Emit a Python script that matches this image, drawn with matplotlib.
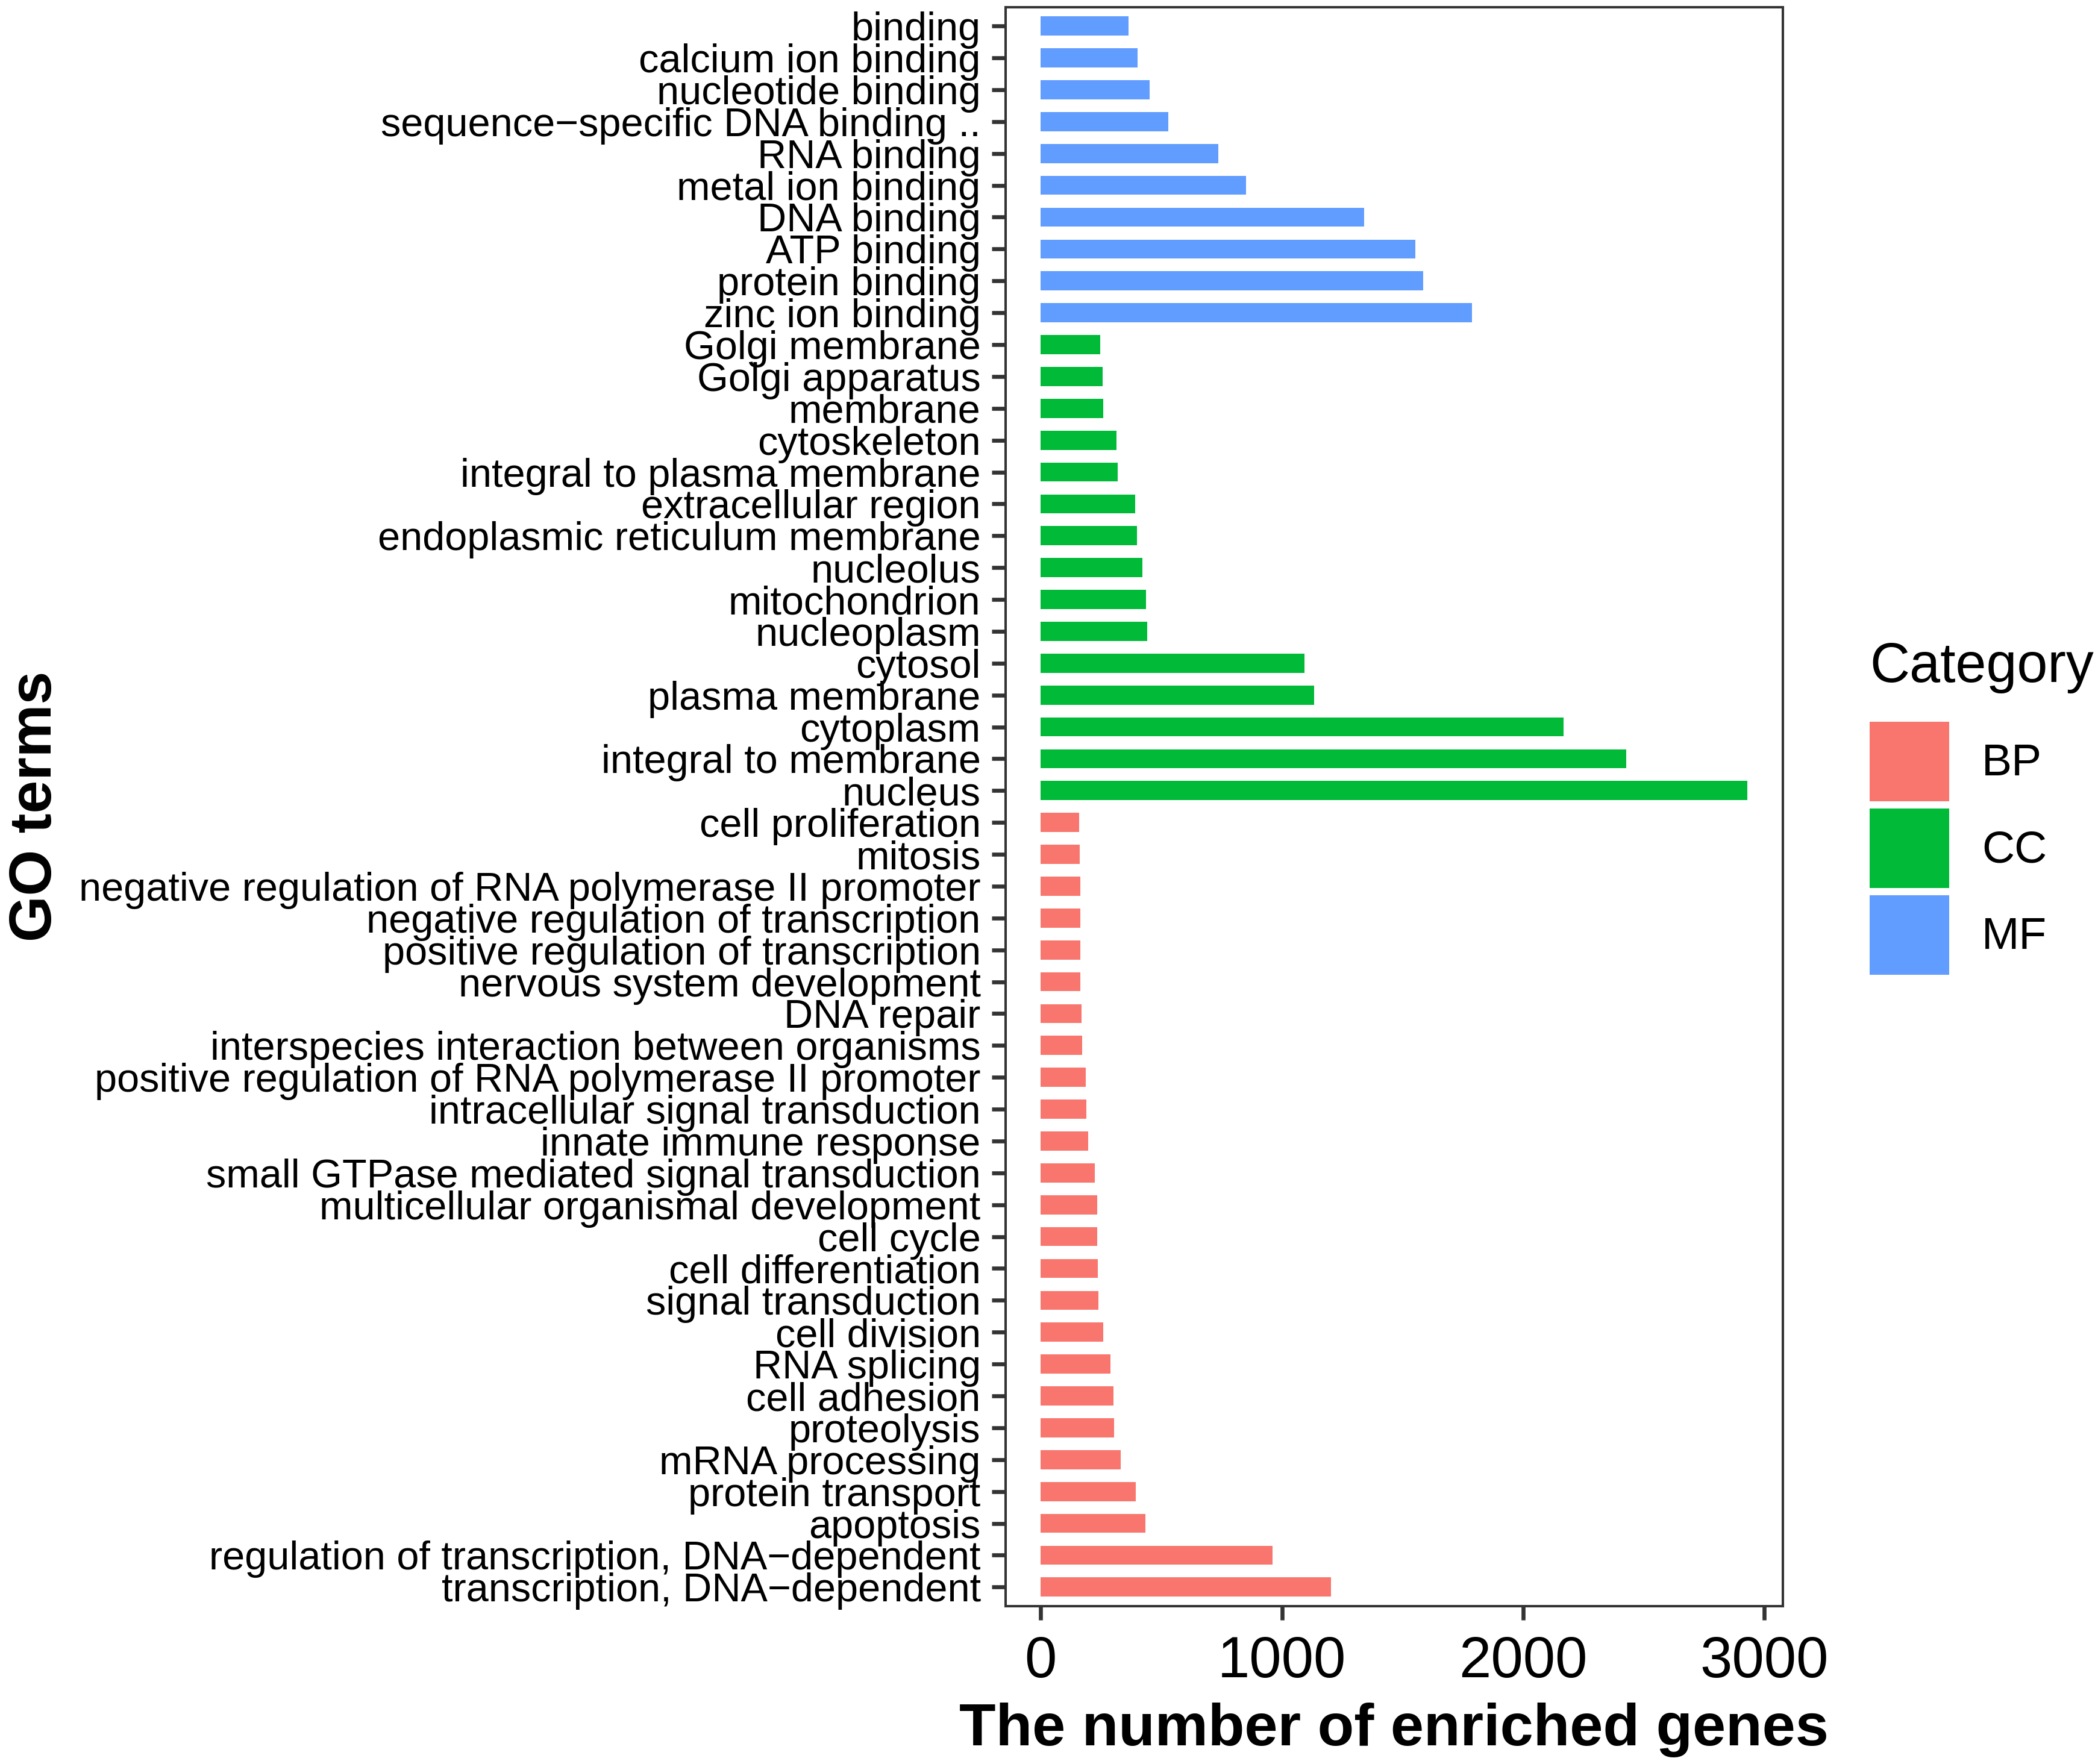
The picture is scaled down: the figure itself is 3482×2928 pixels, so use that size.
import matplotlib
matplotlib.use("Agg")
import matplotlib.pyplot as plt
from matplotlib.patches import Patch

plt.rcParams['font.family'] = ['Liberation Sans', 'DejaVu Sans']

M = "\u2212"

mf_terms = ["binding", "calcium ion binding", "nucleotide binding",
            "sequence" + M + "specific DNA binding ..", "RNA binding",
            "metal ion binding", "DNA binding", "ATP binding",
            "protein binding", "zinc ion binding"]
mf_counts = [364, 402, 451, 529, 736, 851, 1340, 1553, 1587, 1789]

cc_terms = ["Golgi membrane", "Golgi apparatus", "membrane", "cytoskeleton",
            "integral to plasma membrane", "extracellular region",
            "endoplasmic reticulum membrane", "nucleolus", "mitochondrion",
            "nucleoplasm", "cytosol", "plasma membrane", "cytoplasm",
            "integral to membrane", "nucleus"]
cc_counts = [247, 256, 258, 313, 318, 391, 398, 422, 436, 442,
             1093, 1133, 2167, 2427, 2931]

bp_terms = ["cell proliferation", "mitosis",
            "negative regulation of RNA polymerase II promoter",
            "negative regulation of transcription",
            "positive regulation of transcription",
            "nervous system development", "DNA repair",
            "interspecies interaction between organisms",
            "positive regulation of RNA polymerase II promoter",
            "intracellular signal transduction", "innate immune response",
            "small GTPase mediated signal transduction",
            "multicellular organismal development", "cell cycle",
            "cell differentiation", "signal transduction", "cell division",
            "RNA splicing", "cell adhesion", "proteolysis", "mRNA processing",
            "protein transport", "apoptosis",
            "regulation of transcription, DNA" + M + "dependent",
            "transcription, DNA" + M + "dependent"]
bp_counts = [160, 162, 164, 164, 164, 164, 169, 171, 187, 189, 196, 224,
             233, 233, 236, 238, 258, 289, 302, 304, 331, 393, 433, 960, 1204]

categories = ["BP", "CC", "MF"]
colors = {"BP": "#F8766D", "CC": "#00BA38", "MF": "#619CFF"}

terms = mf_terms + cc_terms + bp_terms
counts = mf_counts + cc_counts + bp_counts
cats = ["MF"] * len(mf_terms) + ["CC"] * len(cc_terms) + ["BP"] * len(bp_terms)
n = len(terms)
ypos = [n - 1 - i for i in range(n)]

W, H, DPI = 3482, 2928, 200
fig = plt.figure(figsize=(W / DPI, H / DPI), dpi=DPI)
left, right, top, bottom = 1668.75, 2959, 11.5, 2666
ax = fig.add_axes([left / W, 1 - bottom / H, (right - left) / W, (bottom - top) / H])

ax.barh(ypos, counts, height=0.6, color=[colors[c] for c in cats])

xmax = max(counts)
ax.set_xlim(-0.05 * xmax, 1.05 * xmax)
ax.set_ylim(-0.6, n - 1 + 0.6)
ax.set_xticks([0, 1000, 2000, 3000])
ax.set_yticks(ypos)
ax.set_yticklabels(terms)

for s in ax.spines.values():
    s.set_color("#333333")
    s.set_linewidth(1.45)
ax.tick_params(axis='y', length=8.3, width=2.4, color="#333333", pad=6.5,
               labelsize=24, labelcolor="black")
ax.tick_params(axis='x', length=8.3, width=2.4, color="#333333", pad=9,
               labelsize=34.5, labelcolor="black")

ax.set_xlabel("The number of enriched genes", fontsize=35.7, fontweight='bold', labelpad=8)
ax.set_ylabel("GO terms", fontsize=35.5, fontweight='bold')
ax.yaxis.set_label_coords((105 - left) / (right - left), 0.5)

handles = [Patch(facecolor=colors[c], edgecolor='none', label=c) for c in categories]
leg = fig.legend(handles=handles, title="Category", loc='upper left',
                 bbox_to_anchor=(3103 / W, 1 - 1065 / H), frameon=False,
                 fontsize=27, title_fontsize=33, borderpad=0, borderaxespad=0,
                 handlelength=1.76, handleheight=2.33, labelspacing=0.16,
                 handletextpad=0.72, alignment='left')
try:
    leg._legend_box.sep = 16.9
except Exception:
    pass

fig.savefig("out.png", dpi=DPI)
